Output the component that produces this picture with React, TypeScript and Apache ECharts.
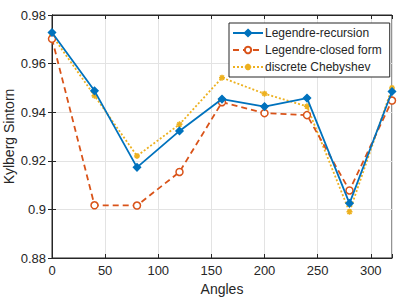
import React, { useEffect, useRef } from "react";
import * as echarts from "echarts";

const angles = [0, 40, 80, 120, 160, 200, 240, 280, 320];
const recursion = [0.9728, 0.9488, 0.9173, 0.9323, 0.9454, 0.9423, 0.9458, 0.9025, 0.9485];
const closedForm = [0.9702, 0.9017, 0.9016, 0.9154, 0.9441, 0.9396, 0.9388, 0.9078, 0.9448];
const chebyshev = [0.9716, 0.9468, 0.9220, 0.9350, 0.9542, 0.9476, 0.9424, 0.8990, 0.9500];
const seriesNames = ["Legendre-recursion", "Legendre-closed form", "discrete Chebyshev"];

const FONT = "'Liberation Sans', Arial, Helvetica, sans-serif";
const TXT = "#262626";

export default function App() {
  const ref = useRef<HTMLDivElement>(null);
  useEffect(() => {
    if (!ref.current) return;
    const chart = echarts.init(ref.current, undefined, { renderer: "svg" });
    const toPairs = (ys: number[]) => angles.map((a, i) => [a, ys[i]]);
    const asterisk = "path://M0,5L10,5M5,0L5,10M1.5,1.5L8.5,8.5M8.5,1.5L1.5,8.5";
    chart.setOption({
      animation: false,
      backgroundColor: "#ffffff",
      textStyle: { fontFamily: FONT, color: TXT },
      grid: {
        left: 52, right: 7, top: 15, bottom: 41,
        outerBoundsMode: "none", containLabel: false,
        show: true, borderColor: TXT, borderWidth: 1, backgroundColor: "transparent",
      },
      legend: {
        orient: "vertical",
        left: 229, top: 23,
        width: 154,
        backgroundColor: "#ffffff",
        borderColor: TXT,
        borderWidth: 1,
        borderRadius: 0,
        padding: [4, 8, 4, 3],
        itemWidth: 30,
        itemHeight: 8,
        itemGap: 5,
        textStyle: { fontFamily: FONT, fontSize: 12, color: TXT, padding: [0, 0, 0, -3] },
        data: seriesNames,
      },
      xAxis: [
        {
          type: "value", min: 0, max: 320, interval: 50,
          name: "Angles", nameLocation: "middle", nameGap: 24, nameMoveOverlap: false,
          nameTextStyle: { fontFamily: FONT, fontSize: 14, color: TXT },
          axisLine: { show: true, lineStyle: { color: TXT } },
          axisTick: { show: true, inside: true, length: 4, lineStyle: { color: TXT } },
          axisLabel: {
            fontFamily: FONT, fontSize: 13, color: TXT, margin: 6,
            formatter: (v: number) => (v === 320 ? "" : String(v)),
          },
          splitLine: { show: true, lineStyle: { color: "#e3e3e3" } },
        },
        {
          type: "value", position: "top", min: 0, max: 320, interval: 50,
          axisLine: { show: true, lineStyle: { color: TXT } },
          axisTick: { show: true, inside: true, length: 4, lineStyle: { color: TXT } },
          axisLabel: { show: false },
          splitLine: { show: false },
        },
      ],
      yAxis: [
        {
          type: "value", min: 0.88, max: 0.98, interval: 0.02,
          name: "Kylberg Sintorn", nameLocation: "middle", nameGap: 36, nameMoveOverlap: false,
          nameTextStyle: { fontFamily: FONT, fontSize: 14, color: TXT },
          axisLine: { show: true, lineStyle: { color: TXT } },
          axisTick: { show: true, inside: true, length: 4, lineStyle: { color: TXT } },
          axisLabel: { fontFamily: FONT, fontSize: 13, color: TXT, margin: 6 },
          splitLine: { show: true, lineStyle: { color: "#e3e3e3" } },
        },
        {
          type: "value", position: "right", min: 0.88, max: 0.98, interval: 0.02,
          axisLine: { show: true, lineStyle: { color: TXT } },
          axisTick: { show: true, inside: true, length: 4, lineStyle: { color: TXT } },
          axisLabel: { show: false },
          splitLine: { show: false },
        },
      ],
      series: [
        {
          name: seriesNames[0], type: "line", data: toPairs(recursion),
          symbol: "diamond", symbolSize: 7, showAllSymbol: true,
          lineStyle: { color: "#0072BD", width: 1.8, type: "solid" },
          itemStyle: { color: "#0072BD", borderColor: "#0072BD", borderWidth: 1.5 },
          z: 4,
        },
        {
          name: seriesNames[1], type: "line", data: toPairs(closedForm),
          symbol: "circle", symbolSize: 7, showAllSymbol: true,
          lineStyle: { color: "#D95319", width: 1.8, type: [6, 4] },
          itemStyle: { color: "#ffffff", borderColor: "#D95319", borderWidth: 1.5 },
          z: 3,
        },
        {
          name: seriesNames[2], type: "line", data: toPairs(chebyshev),
          symbol: asterisk, symbolSize: 6, showAllSymbol: true,
          lineStyle: { color: "#EDB120", width: 1.8, type: [2, 2] },
          itemStyle: { color: "#EDB120", borderColor: "#EDB120", borderWidth: 1.5 },
          z: 2,
        },
      ],
    });
    return () => chart.dispose();
  }, []);
  return (
    <div
      ref={ref}
      style={{ position: "fixed", left: 0, top: 0, width: 399, height: 299 }}
    />
  );
}
